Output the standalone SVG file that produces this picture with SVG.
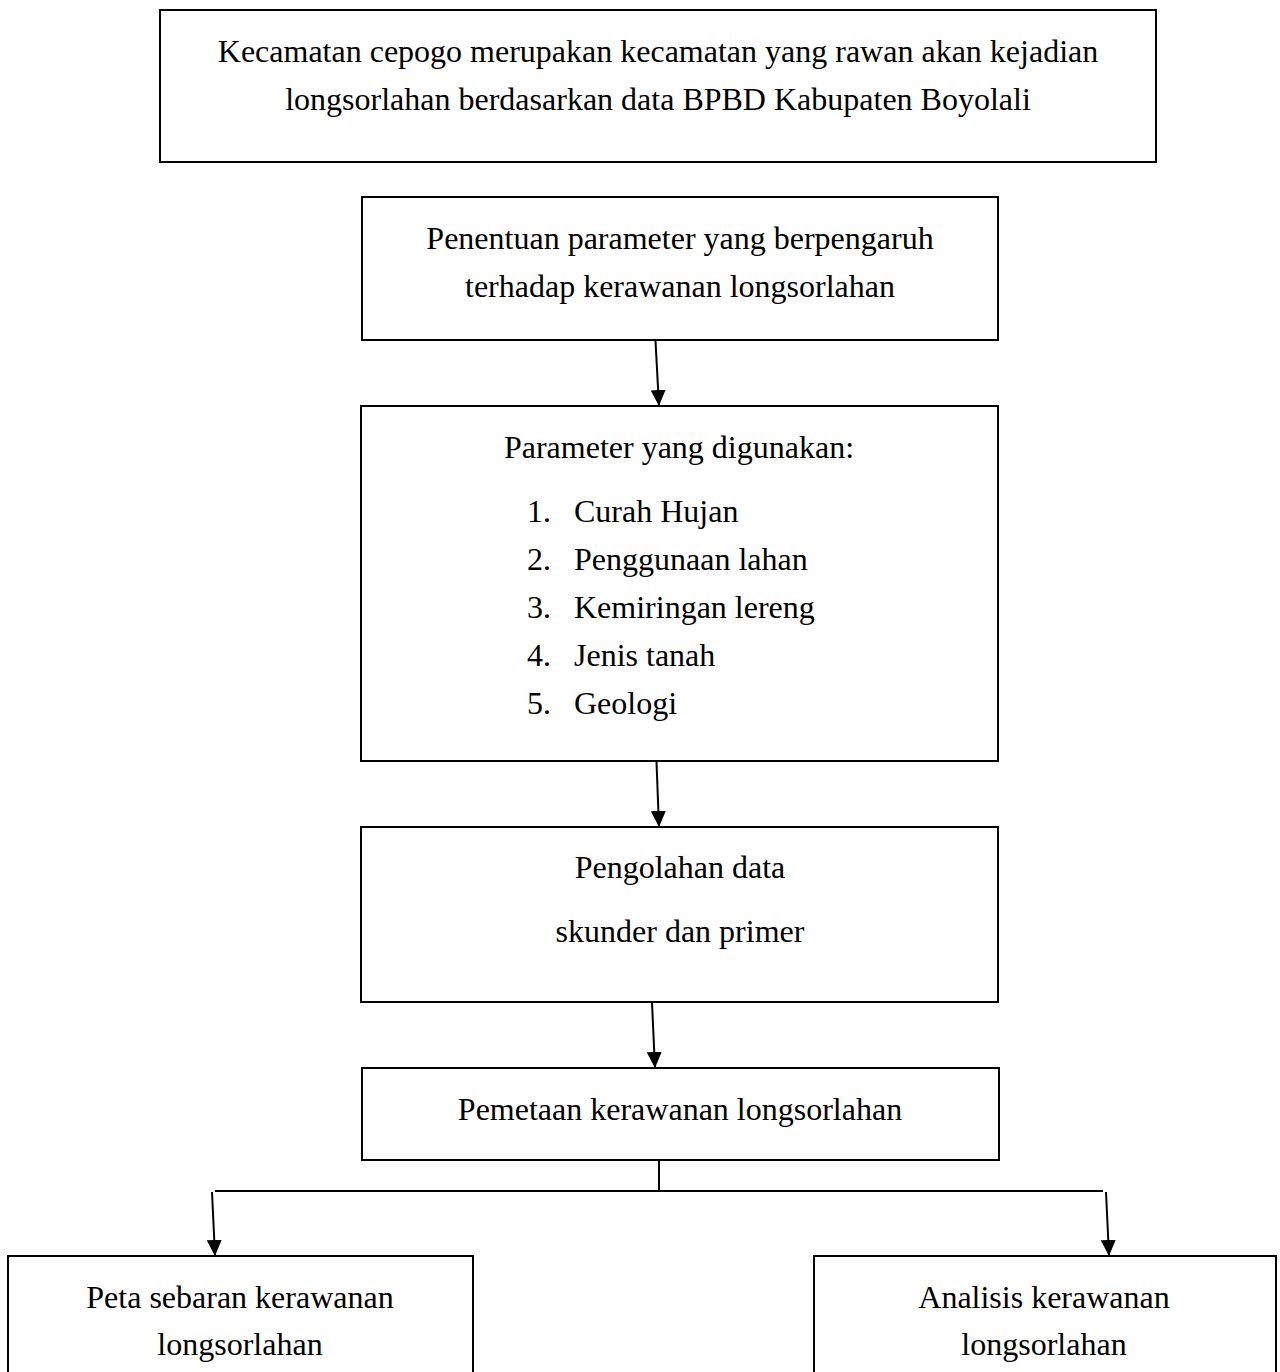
<svg xmlns="http://www.w3.org/2000/svg" width="1280" height="1372" viewBox="0 0 1280 1372">
<style>
.box{fill:#fff;stroke:#000;stroke-width:2}
.t{font-family:"Liberation Serif","Times New Roman",serif;font-size:32px;fill:#000}
.c{text-anchor:middle}
.ln{stroke:#000;stroke-width:2;fill:none}
</style>
<defs>
<marker id="ah" markerUnits="userSpaceOnUse" markerWidth="16" markerHeight="15" refX="16" refY="7.5" orient="auto">
<path d="M0,0 L16,7.5 L0,15 z" fill="#000"/>
</marker>
</defs>
<rect width="1280" height="1372" fill="#fff"/>
<g id="n1">
<rect class="box" x="160" y="10" width="996" height="152"/>
<text class="t c" x="658" y="62">Kecamatan cepogo merupakan kecamatan yang rawan akan kejadian</text>
<text class="t c" x="658" y="110">longsorlahan berdasarkan data BPBD Kabupaten Boyolali</text>
</g>
<g id="n2">
<rect class="box" x="362" y="197" width="636" height="143"/>
<text class="t c" x="680" y="249">Penentuan parameter yang berpengaruh</text>
<text class="t c" x="680" y="297">terhadap kerawanan longsorlahan</text>
</g>
<g id="n3">
<rect class="box" x="361" y="406" width="637" height="355"/>
<text class="t c" x="679" y="458">Parameter yang digunakan:</text>
<text class="t" x="527" y="522">1.</text><text class="t" x="574" y="522">Curah Hujan</text>
<text class="t" x="527" y="570">2.</text><text class="t" x="574" y="570">Penggunaan lahan</text>
<text class="t" x="527" y="618">3.</text><text class="t" x="574" y="618">Kemiringan lereng</text>
<text class="t" x="527" y="666">4.</text><text class="t" x="574" y="666">Jenis tanah</text>
<text class="t" x="527" y="714">5.</text><text class="t" x="574" y="714">Geologi</text>
</g>
<g id="n4">
<rect class="box" x="361" y="827" width="637" height="175"/>
<text class="t c" x="680" y="878">Pengolahan data</text>
<text class="t c" x="680" y="942">skunder dan primer</text>
</g>
<g id="n5">
<rect class="box" x="362" y="1068" width="637" height="92"/>
<text class="t c" x="680" y="1120">Pemetaan kerawanan longsorlahan</text>
</g>
<g id="n6">
<rect class="box" x="8" y="1256" width="465" height="130"/>
<text class="t c" x="240" y="1308">Peta sebaran kerawanan</text>
<text class="t c" x="240" y="1355">longsorlahan</text>
</g>
<g id="n7">
<rect class="box" x="814" y="1256" width="462" height="130"/>
<text class="t c" x="1044" y="1308">Analisis kerawanan</text>
<text class="t c" x="1044" y="1355">longsorlahan</text>
</g>
<g id="connectors">
<line class="ln" x1="655.5" y1="341" x2="659" y2="406" marker-end="url(#ah)"/>
<line class="ln" x1="656.5" y1="762" x2="659" y2="827" marker-end="url(#ah)"/>
<line class="ln" x1="652" y1="1003" x2="655" y2="1068" marker-end="url(#ah)"/>
<line class="ln" x1="659" y1="1161" x2="659" y2="1191"/>
<line class="ln" x1="215" y1="1191" x2="1103" y2="1191"/>
<line class="ln" x1="212" y1="1192" x2="215" y2="1256" marker-end="url(#ah)"/>
<line class="ln" x1="1106" y1="1192" x2="1109" y2="1256" marker-end="url(#ah)"/>
</g>
</svg>
